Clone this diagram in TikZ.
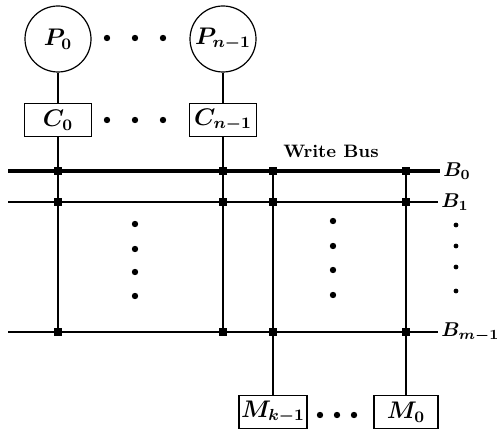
\documentclass[tikz,border=0pt]{standalone}
\usetikzlibrary{positioning,calc}
\tikzset{
    proc/.style={
        circle,                 % procesador: círculo
        draw,
        line width=0.6pt,
        minimum size=33pt,
        inner sep=0pt,
        font=\large\boldmath
    },
    cache/.style={
        rectangle,              % cache: caja rectangular
        draw,
        line width=0.6pt,
        minimum width=33.5pt,
        minimum height=16.5pt,
        inner sep=1pt,
        font=\large\boldmath
    },
    mem/.style={
        cache,                  % módulo de memoria, misma estética
        minimum width=32pt
    },
    junc/.style={rectangle, fill, minimum size=3.6pt, inner sep=0pt},
    bigdot/.style={circle, fill, minimum size=3.2pt, inner sep=0pt},
    smalldot/.style={circle, fill, minimum size=2.4pt, inner sep=0pt},
    wire/.style={line width=0.7pt},
    writebus/.style={line width=2pt},
    buslabel/.style={right, inner sep=1.5pt, font=\boldmath}
}
\begin{document}
\begin{tikzpicture}[x=0.5pt,y=-0.5pt]
    \useasboundingbox (0,0) rectangle (497,432);

    % procesadores y caches
    \node[proc] (p0) at (58,39) {$P_0$};
    \node[proc] (pn) at (223,39) {$P_{n-1}$};
    \node[cache] (c0) at (58,120) {$C_0$};
    \node[cache] (cn) at (223,120) {$C_{n-1}$};

    % modulos de memoria
    \node[mem] (mk) at (273,412) {$M_{k-1}$};
    \node[mem] (m0) at (406,412) {$M_0$};

    % buses
    \coordinate (b0w) at (8,171);
    \coordinate (b0e) at (440,171);
    \coordinate (b1w) at (8,202);
    \coordinate (b1e) at (438,202);
    \coordinate (bmw) at (8,332);
    \coordinate (bme) at (438,332);
    \draw[writebus] (b0w) -- (b0e);
    \draw[wire] (b1w) -- (b1e);
    \draw[wire] (bmw) -- (bme);
    \node[buslabel] (lb0) at (b0e) {$B_0$};
    \node[buslabel] (lb1) at (b1e) {$B_1$};
    \node[buslabel] (lbm) at (bme) {$B_{m-1}$};
    \node[font=\small\bfseries] (wb) at (331,151) {Write Bus};

    % uniones
    \foreach \c/\x in {a/58,b/223,c/273,d/406}
        \foreach \r/\y in {0/171,1/202,m/332}
            \node[junc] (j\c\r) at (\x,\y) {};

    \draw[wire] (p0) -- (c0);
    \draw[wire] (pn) -- (cn);
    \draw[wire] (c0) -- (jam);
    \draw[wire] (cn) -- (jbm);
    \draw[wire] (jc0) -- (mk);
    \draw[wire] (jd0) -- (m0);

    % puntos suspensivos
    \foreach \i/\x in {1/107,2/135,3/163} {
        \node[bigdot] (pd\i) at (\x,38) {};
        \node[bigdot] (cd\i) at (\x,120) {};
    }
    \foreach \i/\x in {1/320,2/337,3/354}
        \node[bigdot] (md\i) at (\x,415) {};
    \foreach \i/\y in {1/224,2/249,3/272,4/296}
        \node[bigdot] (vl\i) at (135,\y) {};
    \foreach \i/\y in {1/221,2/246,3/270,4/295}
        \node[bigdot] (vr\i) at (333,\y) {};
    \foreach \i/\y in {1/225,2/246,3/267,4/291}
        \node[smalldot] (vb\i) at (456,\y) {};
\end{tikzpicture}
\end{document}
